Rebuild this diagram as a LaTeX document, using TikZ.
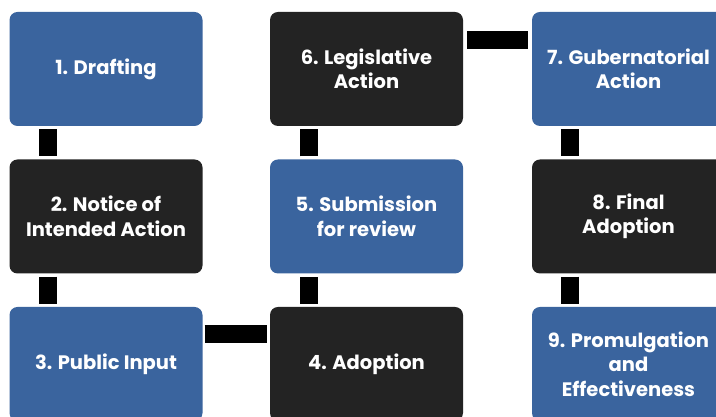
\documentclass[tikz,border=0pt]{standalone}
\usepackage{fontspec}
\setmainfont{Poppins}
\definecolor{stepblue}{RGB}{58,100,158}
\definecolor{stepdark}{RGB}{35,35,35}
\tikzset{
  box/.style={rounded corners=8pt, minimum width=193pt, minimum height=114pt, inner sep=0pt,
    text=white, font=\fontsize{19.5}{24.5}\selectfont\bfseries, align=center, draw=none},
  bluebox/.style={box, fill=stepblue},
  darkbox/.style={box, fill=stepdark},
  conn/.style={draw=black, line cap=butt},
  vconn/.style={conn, line width=18pt},
  hconn/.style={conn, line width=17.5pt}
}
\begin{document}
\begin{tikzpicture}[x=1pt,y=1pt]
\useasboundingbox (0,0) rectangle (716,417);
\clip (0,0) rectangle (716,417);
% pixel coords: x as is, y = 417 - py
\node[bluebox] (n1) at (106,348) {1. Drafting};
\node[darkbox] (n2) at (106,200.5) {2. Notice of\\Intended Action};
\node[bluebox] (n3) at (106,53) {3. Public Input};
\node[darkbox] (n4) at (366.5,53) {4. Adoption};
\node[bluebox] (n5) at (366.5,200.5) {5. Submission\\for review};
\node[darkbox] (n6) at (366.5,348) {6. Legislative\\Action};
\node[bluebox] (n7) at (628.5,348) {7. Gubernatorial\\Action};
\node[darkbox] (n8) at (628.5,200.5) {8. Final\\Adoption};
\node[bluebox] (n9) at (628.5,53) {9. Promulgation\\and\\Effectiveness};
% vertical connectors
\draw[vconn] ([xshift=-58pt,yshift=-3pt]n1.south) -- ([xshift=-58pt,yshift=3pt]n2.north);
\draw[vconn] ([xshift=-58pt,yshift=-3pt]n2.south) -- ([xshift=-58pt,yshift=3pt]n3.north);
\draw[vconn] ([xshift=-57.5pt,yshift=3pt]n4.north) -- ([xshift=-57.5pt,yshift=-3pt]n5.south);
\draw[vconn] ([xshift=-57.5pt,yshift=3pt]n5.north) -- ([xshift=-57.5pt,yshift=-3pt]n6.south);
\draw[vconn] ([xshift=-58.5pt,yshift=-3pt]n7.south) -- ([xshift=-58.5pt,yshift=3pt]n8.north);
\draw[vconn] ([xshift=-58.5pt,yshift=-3pt]n8.south) -- ([xshift=-58.5pt,yshift=3pt]n9.north);
% horizontal connectors
\draw[hconn] ([xshift=2pt,yshift=30pt]n3.east) -- ([xshift=-3pt,yshift=30pt]n4.west);
\draw[hconn] ([xshift=4pt,yshift=29pt]n6.east) -- ([xshift=-4pt,yshift=29pt]n7.west);
\end{tikzpicture}
\end{document}
